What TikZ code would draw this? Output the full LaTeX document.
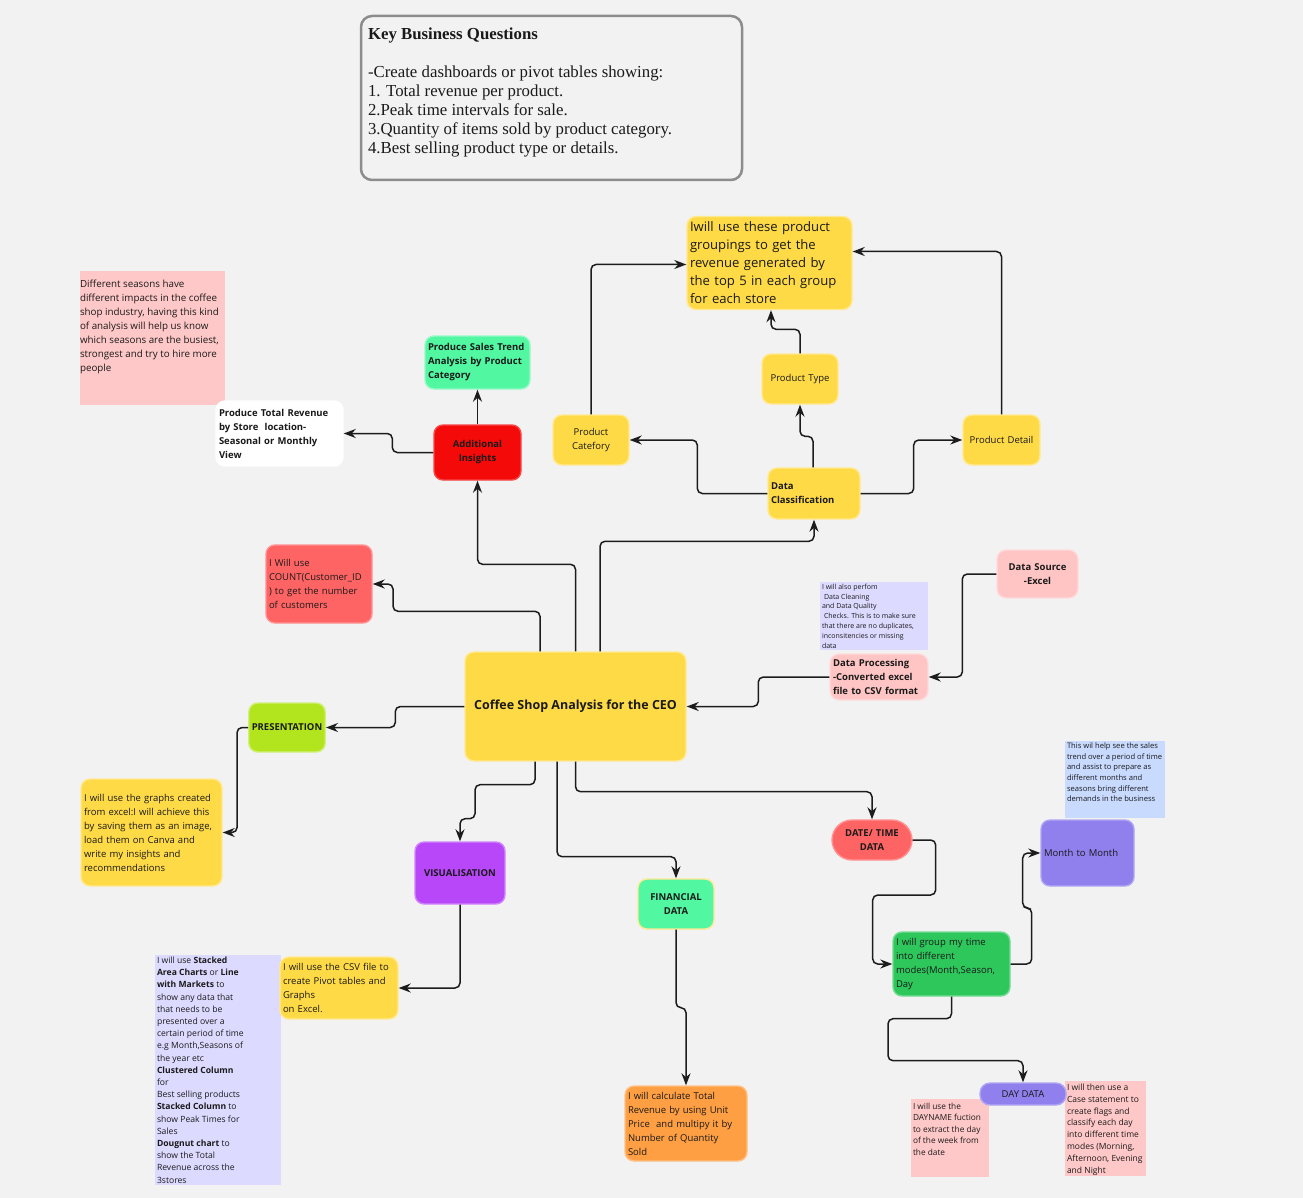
\documentclass[tikz,border=0pt]{standalone}
\usepackage{fontspec}
\setmainfont{Open Sans}
\newfontfamily\kbserif{Liberation Serif}
\usetikzlibrary{arrows.meta}

\definecolor{bg}{HTML}{F2F2F2}
\definecolor{ink}{HTML}{1A1A1A}
\definecolor{wire}{HTML}{1C1C1C}
\definecolor{ybox}{HTML}{FFDA47}
\definecolor{pinknote}{HTML}{FFC8C8}
\definecolor{lavnote}{HTML}{DDDAFF}
\definecolor{bluenote}{HTML}{C9DAFF}
\definecolor{mint}{HTML}{52F7A2}
\definecolor{redbox}{HTML}{F50A0A}
\definecolor{salmon}{HTML}{FF6464}
\definecolor{softpink}{HTML}{FFC4C4}
\definecolor{lime}{HTML}{B3E51F}
\definecolor{violet}{HTML}{B847FA}
\definecolor{orangebox}{HTML}{FF9F43}
\definecolor{grass}{HTML}{2EC75C}
\definecolor{periwinkle}{HTML}{8F80EE}
\definecolor{keyframe}{HTML}{8C8C8C}

\newcommand\topbox[3]{\parbox[c][#2pt][t]{#1pt}{#3}}

\begin{document}
\begin{tikzpicture}[x=1pt,y=-1pt,
  box/.style={rounded corners=9pt, inner sep=3pt, text=ink, line width=1.4pt},
  pill/.style={rounded corners=20pt, inner sep=3pt, text=ink, line width=1.4pt},
  note/.style={inner sep=2pt, text=ink},
  sz/.style 2 args={minimum width=#1pt, minimum height=#2pt},
  tw/.style={text width=#1pt, align=left},
  tc/.style={text width=#1pt, align=center},
  f95/.style={font=\fontsize{9.5}{14}\selectfont},
  f95b/.style={font=\fontsize{9.5}{14}\selectfont\bfseries},
  conn/.style={draw=wire, line width=1.5pt, rounded corners=5pt,
    -{Stealth[length=12pt,width=9pt]}},
  keybox/.style={draw=keyframe, line width=2.5pt, rounded corners=11pt,
    fill=bg, inner sep=7pt, text=ink}
]
\fill[bg] (0,0) rectangle (1303,1198);
\useasboundingbox (0,0) rectangle (1303,1198);

% ---------- questions panel ----------
\node[keybox, sz={381}{164}] (keyq) at (551.5,98)
  {\topbox{367}{150}{\kbserif\fontsize{16.8}{19}\selectfont\vspace*{5pt}%
   \textbf{Key Business Questions}\\
   \mbox{}\\
   -Create dashboards or pivot tables showing:\\
   1. Total revenue per product.\\
   2.Peak time intervals for sale.\\
   3.Quantity of items sold by product category.\\
   4.Best selling product type or details.}};

% ---------- notes ----------
\node[note, fill=pinknote, sz={145}{134}, inner xsep=0pt] (seasonNote) at (152.5,338)
  {\topbox{145}{130}{\fontsize{9.8}{14}\selectfont\vspace*{7pt}%
   Different seasons have\\
   different impacts in the coffee\\
   shop industry, having this kind\\
   of analysis will help us know\\
   which seasons are the busiest,\\
   strongest and try to hire more\\
   people}};

\node[note, fill=lavnote, sz={108}{68}] (cleanNote) at (874,616)
  {\topbox{104}{64}{\fontsize{7}{9.8}\selectfont
   I will also perfom\\
   \hspace*{2pt}Data Cleaning\\
   and Data Quality\\
   \hspace*{2pt}Checks. This is to make sure\\
   that there are no duplicates,\\
   inconsitencies or missing\\
   data}};

\node[note, fill=bluenote, sz={100}{77}] (trendNote) at (1115,779.5)
  {\topbox{96}{73}{\fontsize{7.6}{10.6}\selectfont
   This wil help see the sales\\
   trend over a period of time\\
   and assist to prepare as\\
   different months and\\
   seasons bring different\\
   demands in the business}};

\node[note, fill=lavnote, sz={126}{230}] (chartNote) at (218,1070)
  {\topbox{122}{226}{\fontsize{8.6}{12.2}\selectfont
   I will use \textbf{Stacked}\\
   \textbf{Area Charts} or \textbf{Line}\\
   \textbf{with Markets} to\\
   show any data that\\
   that needs to be\\
   presented over a\\
   certain period of time\\
   e.g Month,Seasons of\\
   the year etc\\
   \textbf{Clustered Column}\\
   for\\
   Best selling products\\
   \textbf{Stacked Column} to\\
   show Peak Times for\\
   Sales\\
   \textbf{Dougnut chart} to\\
   show the Total\\
   Revenue across the\\
   3stores}};

\node[note, fill=pinknote, sz={78}{78}] (dayNameNote) at (950,1138)
  {\topbox{74}{74}{\fontsize{8.3}{11.5}\selectfont\vspace*{2pt}%
   I will use the\\
   DAYNAME fuction\\
   to extract the day\\
   of the week from\\
   the date}};

\node[note, fill=pinknote, sz={81}{95}] (caseNote) at (1105.5,1128.5)
  {\topbox{77}{91}{\fontsize{8.5}{11.8}\selectfont\vspace*{1pt}%
   I will then use a\\
   Case statement to\\
   create flags and\\
   classify each day\\
   into different time\\
   modes (Morning,\\
   Afternoon, Evening\\
   and Night}};

% ---------- top branch ----------
\node[box, fill=white, draw=white, sz={127}{65}, tw=121, f95b] (totalRev) at (279.5,433.5)
  {Produce Total Revenue\\by Store\ \ location-\\Seasonal or Monthly\\View};
\node[box, fill=mint, draw=mint!60!white, sz={103}{53}, tw=99, f95b] (salesTrend) at (477.5,362.5)
  {Produce Sales Trend\\Analysis by Product\\Category};
\node[box, fill=redbox, draw=redbox!75!white, sz={87}{55}, tc=80, f95b] (addIns) at (477.5,452.5)
  {Additional\\Insights};

\node[box, fill=ybox, draw=ybox!60!white, sz={163}{93}, tw=159,
  font=\fontsize{13.1}{18}\selectfont] (topFive) at (769.5,263)
  {Iwill use these product\\groupings to get the\\revenue generated by\\the top 5 in each group\\for each store};
\node[box, fill=ybox, draw=ybox!60!white, sz={76}{50}, tc=70, f95] (prodCat) at (591,440)
  {Product\\Catefory};
\node[box, fill=ybox, draw=ybox!60!white, sz={76}{50}, tc=70, f95] (prodType) at (800,379)
  {Product Type};
\node[box, fill=ybox, draw=ybox!60!white, sz={77}{50}, tc=71, f95] (prodDetail) at (1001.5,440)
  {Product Detail};
\node[box, fill=ybox, draw=ybox!60!white, sz={90}{51}, tw=86, f95b] (dataClass) at (814,493.5)
  {Data\\Classification};

\node[box, fill=salmon, draw=salmon!70!white, sz={104}{78}, tw=100, f95] (countNode) at (319,584)
  {I Will use\\COUNT(Customer\_ID\\) to get the number\\of customers};

% ---------- source side ----------
\node[box, fill=softpink, draw=softpink!60!white, sz={81}{48}, tc=75, f95b] (srcNode) at (1037.5,574)
  {Data Source\\-Excel};
\node[box, fill=softpink, draw=softpink!60!white, sz={96}{46}, tw=92, f95b] (procNode) at (879,677)
  {Data Processing\\-Converted excel\\file to CSV format};

% ---------- centre ----------
\node[box, fill=ybox, draw=ybox!60!white, sz={221}{109},
  font=\fontsize{12.5}{15}\selectfont\bfseries] (ceo) at (575.5,706.5)
  {Coffee Shop Analysis for the CEO};

% ---------- lower branches ----------
\node[box, fill=lime, draw=lime!60!white, sz={76}{49}, f95b] (present) at (287,727.5)
  {PRESENTATION};
\node[box, fill=ybox, draw=ybox!60!white, sz={141}{107}, tw=135, f95] (graphsNote) at (151.5,832.5)
  {I will use the graphs created\\from excel:I will achieve this\\by saving them as an image,\\load them on Canva and\\write my insights and\\recommendations};

\node[box, fill=violet, draw=violet!65!white, sz={90}{62}, f95b] (visual) at (460,873)
  {VISUALISATION};
\node[box, fill=ybox, draw=ybox!60!white, sz={116}{62}, tw=112, f95] (csvNote) at (339,988)
  {I will use the CSV file to\\create Pivot tables and\\Graphs\\on Excel.};

\node[box, fill=mint, draw=ybox!60!white, sz={76}{50}, tc=70, f95b] (finance) at (676,904)
  {FINANCIAL\\DATA};
\node[box, fill=orangebox, draw=orangebox!65!white, sz={120}{75}, tw=116, f95] (revenueCalc) at (686,1123.5)
  {I will calculate Total\\Revenue by using Unit\\Price\ \ and multipy it by\\Number of Quantity\\Sold};

\node[pill, fill=salmon, draw=salmon!70!white, sz={80}{40}, tc=74, f95b] (dateTime) at (872,840)
  {DATE/ TIME\\DATA};
\node[box, fill=grass, draw=grass!65!white, sz={115}{64}, tw=111, f95] (groupTime) at (951.5,964)
  {I will group my time\\into different\\modes(Month,Season,\\Day};
\node[box, fill=periwinkle, draw=periwinkle!70!white, sz={91}{66}, tw=87, f95] (monthNode) at (1087.5,853)
  {Month to Month};
\node[box, rounded corners=10pt, fill=periwinkle, draw=periwinkle!70!white, sz={86}{22}, inner ysep=1pt, f95] (dayData) at (1023,1094)
  {DAY DATA};

% ---------- connectors ----------
\draw[conn] (ceo.north) -- ++(0,-87) -| (addIns.south);
\draw[conn] ([xshift=-35.5pt]ceo.north) -- ++(0,-40) -- ++(-147,0) |- (countNode.east);
\draw[conn] ([xshift=24.5pt]ceo.north) -- ++(0,-110) -| (dataClass.south);
\draw[conn] (procNode.west) -- ++(-71,0) |- (ceo.east);
\draw[conn] (srcNode.west) -- ++(-34,0) |- (procNode.east);
\draw[conn] (ceo.west) -- ++(-69,0) |- (present.east);
\draw[conn] (present.west) -- ++(-11,0) |- (graphsNote.east);
\draw[conn] ([xshift=-40.5pt]ceo.south) -- ++(0,23) -- ++(-60,0) -- ++(0,34) -| (visual.north);
\draw[conn] ([xshift=-18.5pt]ceo.south) -- ++(0,95) -| (finance.north);
\draw[conn] (ceo.south) -- ++(0,30) -| (dateTime.north);
\draw[conn] (visual.south) |- (csvNote.east);
\draw[conn] (finance.south) -- ++(0,78) -| (revenueCalc.north);
\draw[conn] (dateTime.east) -- ++(23,0) -- ++(0,55) -- ++(-63,0) |- (groupTime.west);
\draw[conn] (groupTime.east) -- ++(21,0) -- ++(0,-56) -- ++(-9,0) |- (monthNode.west);
\draw[conn] (groupTime.south) -- ++(0,22) -- ++(-63.5,0) -- ++(0,42) -| (dayData.north);
\draw[conn] (addIns.north) -- (salesTrend.south);
\draw[conn] (addIns.west) -- ++(-41,0) |- (totalRev.east);
\draw[conn] (dataClass.west) -- ++(-70,0) |- (prodCat.east);
\draw[conn] ([xshift=-1pt]dataClass.north) -- ++(0,-31) -| (prodType.south);
\draw[conn] (dataClass.east) -- ++(53,0) |- (prodDetail.west);
\draw[conn] (prodCat.north) |- ([yshift=-1.5pt]topFive.west);
\draw[conn] (prodType.north) -- ++(0,-24) -| ([xshift=1.5pt]topFive.south);
\draw[conn] (prodDetail.north) |- ([yshift=11.5pt]topFive.east);
\end{tikzpicture}
\end{document}
